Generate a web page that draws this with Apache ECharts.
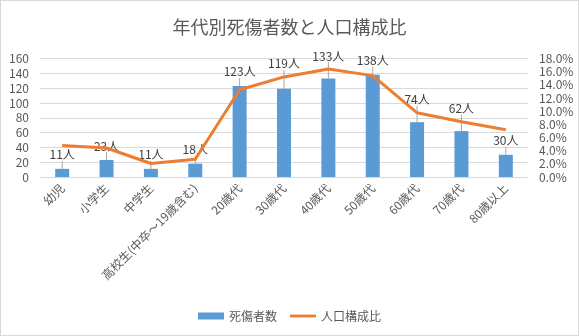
<!DOCTYPE html>
<html>
<head>
<meta charset="utf-8">
<script src="https://cdn.jsdelivr.net/npm/echarts@6/dist/echarts.min.js"></script>
<style>
html,body{margin:0;padding:0;background:#fff;}
#c{width:579px;height:336px;box-sizing:border-box;border:1px solid #d9d9d9;}
</style>
</head>
<body>
<div id="c"></div>
<script>
var categories = ['幼児','小学生','中学生','高校生(中卒～19歳含む)','20歳代','30歳代','40歳代','50歳代','60歳代','70歳代','80歳以上'];
var casualties = [11, 23, 11, 18, 123, 119, 133, 138, 74, 62, 30];
var populationShare = [0.0478, 0.044, 0.0205, 0.027, 0.1325, 0.152, 0.164, 0.154, 0.0975, 0.084, 0.0717];
var leftTicks = {min: 0, max: 160, interval: 20};
var rightTicks = {min: 0, max: 0.18, interval: 0.02};

var FONT = '"Noto Sans CJK JP", "Noto Sans", sans-serif';
var chart = echarts.init(document.getElementById('c'));

// Lift a bar's value label above the percentage line when the line runs through it
function labelLayout(params) {
  var i = params.dataIndex;
  var r = params.labelRect;
  var cx = r.x + r.width / 2;
  var cy = r.y + r.height / 2;
  var lineY = chart.convertToPixel({xAxisIndex: 0, yAxisIndex: 1}, [i, populationShare[i]])[1];
  var barTop = chart.convertToPixel({xAxisIndex: 0, yAxisIndex: 0}, [i, casualties[i]])[1];
  if (i >= 4 && lineY > r.y + 2 && lineY < barTop) {
    cy = lineY - 13;
  }
  return {x: cx, y: cy, align: 'center', verticalAlign: 'middle'};
}

chart.setOption({
  animation: false,
  textStyle: {fontFamily: FONT},
  title: {
    text: '年代別死傷者数と人口構成比',
    left: 'center',
    top: 12,
    textStyle: {fontFamily: FONT, fontSize: 18, fontWeight: 'normal', color: '#595959'}
  },
  legend: {
    bottom: 8,
    left: 'center',
    itemGap: 13,
    itemWidth: 26,
    itemHeight: 7,
    textStyle: {fontFamily: FONT, fontSize: 12, color: '#595959'},
    data: [
      {name: '死傷者数', icon: 'rect'},
      {name: '人口構成比', icon: 'path://M0,0 L100,0 L100,11 L0,11 Z'}
    ]
  },
  grid: {left: 39, right: 50, top: 57.5, bottom: 158, containLabel: false},
  xAxis: {
    type: 'category',
    data: categories,
    axisTick: {show: false},
    axisLine: {lineStyle: {color: '#d9d9d9'}},
    axisLabel: {rotate: 45, color: '#595959', fontSize: 12, fontFamily: FONT, margin: 9, interval: 0}
  },
  yAxis: [
    {
      type: 'value',
      min: leftTicks.min, max: leftTicks.max, interval: leftTicks.interval,
      axisLine: {show: false}, axisTick: {show: false},
      axisLabel: {color: '#595959', fontSize: 12, fontFamily: FONT, margin: 11},
      splitLine: {lineStyle: {color: '#d9d9d9'}}
    },
    {
      type: 'value',
      min: rightTicks.min, max: rightTicks.max, interval: rightTicks.interval,
      axisLine: {show: false}, axisTick: {show: false},
      splitLine: {show: false},
      axisLabel: {
        color: '#595959', fontSize: 12, fontFamily: FONT, margin: 11,
        formatter: function (v) { return (v * 100).toFixed(1) + '%'; }
      }
    }
  ],
  series: [
    {
      name: '死傷者数',
      type: 'bar',
      data: casualties,
      barWidth: 14,
      itemStyle: {color: '#5B9BD5'},
      label: {
        show: true,
        position: 'top',
        distance: 8,
        color: '#404040',
        fontSize: 12,
        fontFamily: FONT,
        formatter: '{c}人'
      },
      labelLine: {show: true, lineStyle: {color: '#a6a6a6', width: 1}},
      labelLayout: labelLayout
    },
    {
      name: '人口構成比',
      type: 'line',
      yAxisIndex: 1,
      data: populationShare,
      symbol: 'none',
      lineStyle: {color: '#ED7D31', width: 3},
      itemStyle: {color: '#ED7D31'}
    }
  ]
});
</script>
</body>
</html>
